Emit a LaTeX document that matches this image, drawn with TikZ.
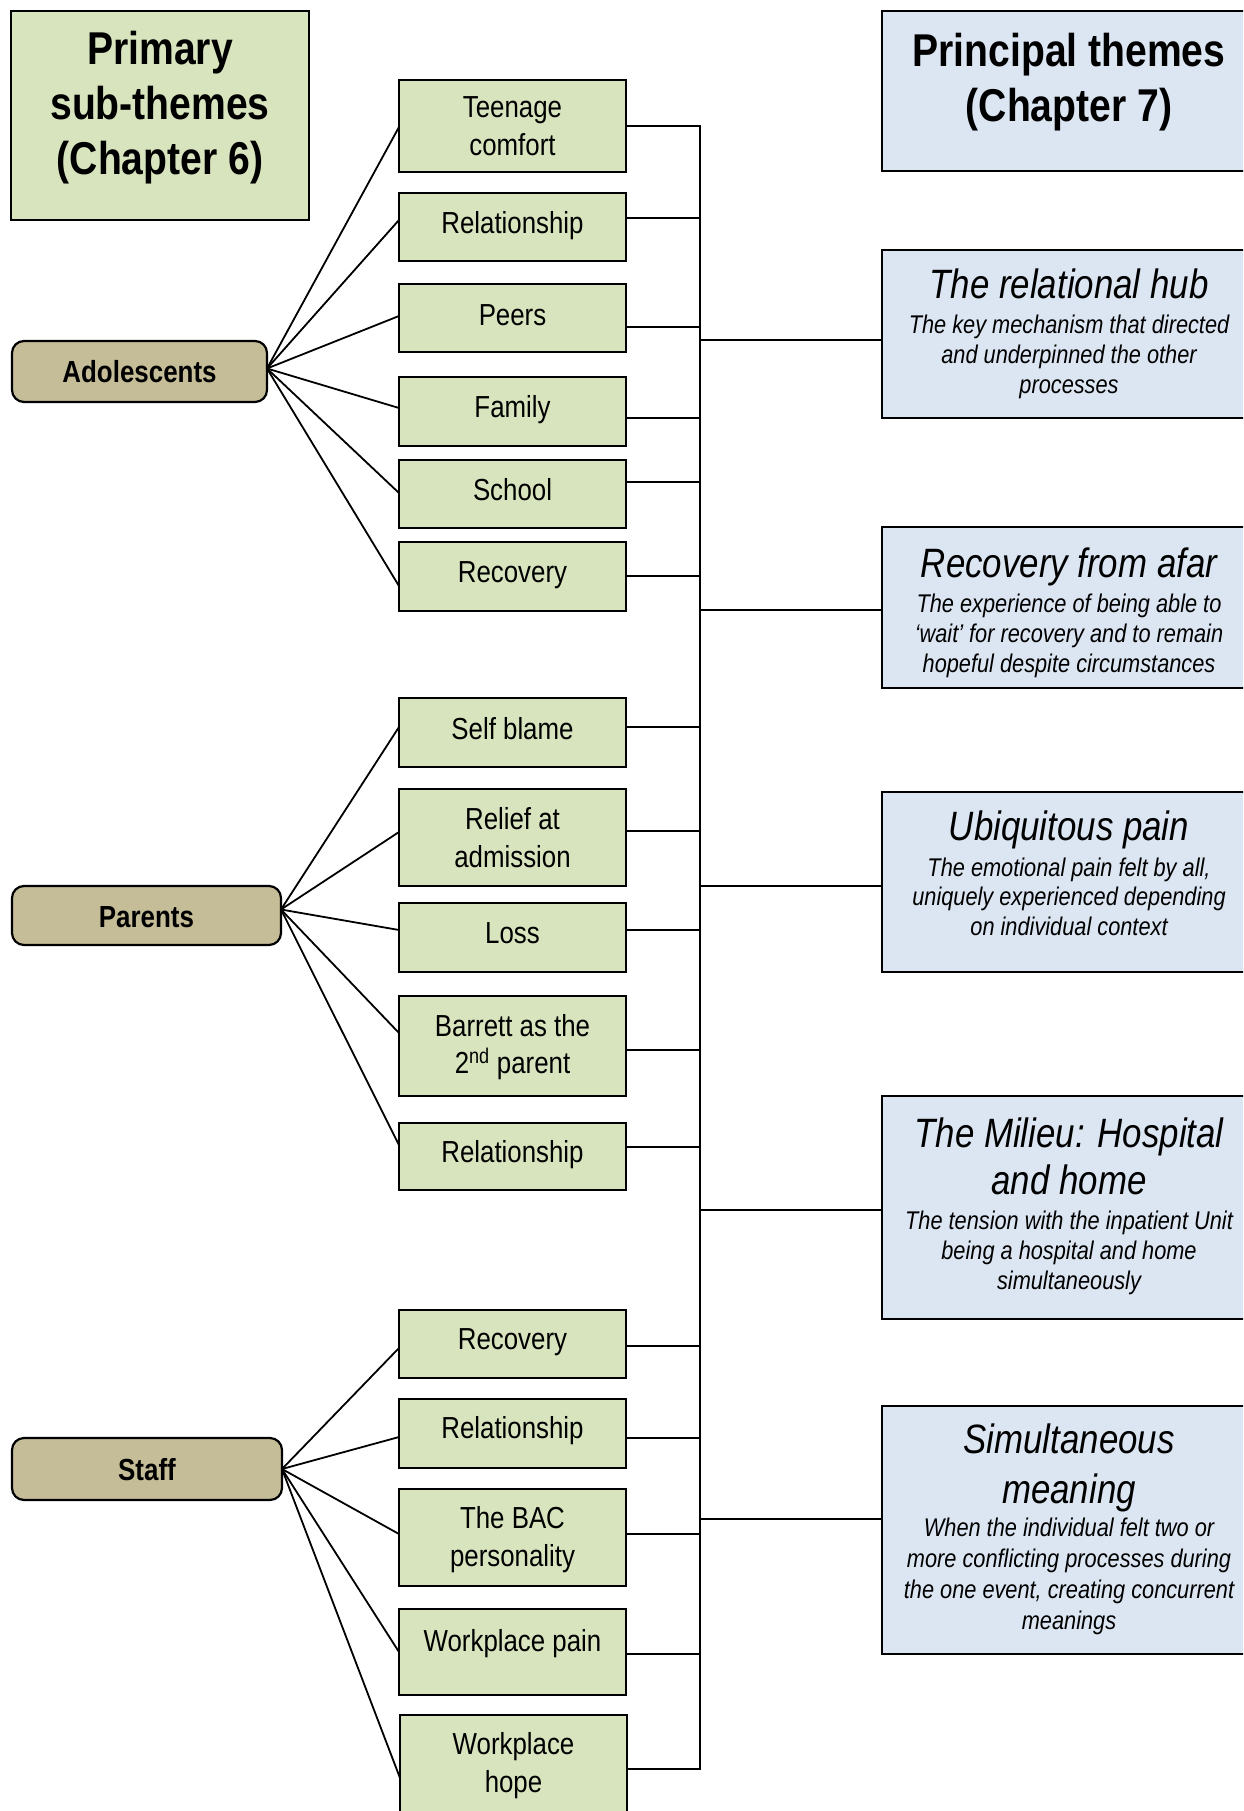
\documentclass[tikz,border=0pt]{standalone}
\usepackage{fontspec}
\setmainfont{Liberation Sans}[FakeStretch=0.85]
\usetikzlibrary{calc}

\definecolor{subgreen}{RGB}{215,228,189}
\definecolor{themeblue}{RGB}{220,230,242}
\definecolor{grouptan}{RGB}{196,189,151}

% \mkbox{style}{name}{left}{top}{right}{bottom}: a box node spanning the given edges
\newcommand\mkbox[6]{%
  \node[#1, minimum width={#5-#3}, minimum height={#6-#4}] (#2)
    at ({(#3+#5)/2},{(#4+#6)/2}) {};}

\begin{document}
\begin{tikzpicture}[x=1pt,y=-1pt,
  box/.style={draw=black, line width=2.2pt, inner sep=0pt, outer sep=0pt},
  subbox/.style={box, fill=subgreen},
  themebox/.style={box, fill=themeblue},
  headbox/.style={box, fill=subgreen},
  groupbox/.style={box, fill=grouptan, rounded corners=12pt},
  link/.style={draw=black, line width=2pt},
  spoke/.style={draw=black, line width=1.8pt},
  lbl/.style={anchor=base, inner sep=0pt, outer sep=0pt},
  subtxt/.style={lbl, font=\fontsize{30.4}{36}\selectfont},
  grouptxt/.style={lbl, font=\fontsize{30.5}{36}\selectfont\bfseries},
  headtxt/.style={lbl, font=\fontsize{46}{55}\selectfont\bfseries},
  titletxt/.style={lbl, font=\fontsize{41}{48}\selectfont\itshape},
  desctxt/.style={lbl, font=\fontsize{25.6}{30}\selectfont\itshape}]

\useasboundingbox (0,0) rectangle (1243,1811);
\clip (0,0) rectangle (1243,1811);
\fill[white] (0,0) rectangle (1243,1811);

% ---------- column headings ----------
\mkbox{headbox}{primary}{11}{11}{309}{220}
\node[headtxt] (primary1) at (160,65) {Primary};
\node[headtxt] (primary2) at (160,120) {sub-themes};
\node[headtxt] (primary3) at (160,175) {(Chapter 6)};

\mkbox{themebox}{principal}{882}{11}{1258}{171}
\node[headtxt] (principal1) at (1069,67) {Principal themes};
\node[headtxt] (principal2) at (1069,122) {(Chapter 7)};

% ---------- participant groups ----------
\mkbox{groupbox}{adol}{12}{341}{267}{402}
\node[grouptxt] (adolt) at (139.5,382) {Adolescents};
\mkbox{groupbox}{parents}{12}{886}{281}{945}
\node[grouptxt] (parentst) at (146.5,927) {Parents};
\mkbox{groupbox}{staff}{12}{1438}{282}{1500}
\node[grouptxt] (stafft) at (147,1480) {Staff};

\coordinate (adolhub) at ($(adol.east)+(0,-3)$);
\coordinate (parhub) at ($(parents.east)+(0,-6)$);
\coordinate (staffhub) at (staff.east);

% ---------- sub-themes ----------
\mkbox{subbox}{tc}{399}{80}{626}{172}
\node[subtxt] (tc1) at (512.5,118) {Teenage};
\node[subtxt] (tc2) at (512.5,156) {comfort};
\mkbox{subbox}{rela}{399}{193}{626}{261}
\node[subtxt] (relat) at (512.5,234) {Relationship};
\mkbox{subbox}{peers}{399}{284}{626}{352}
\node[subtxt] (peerst) at (512.5,325) {Peers};
\mkbox{subbox}{family}{399}{377}{626}{446}
\node[subtxt] (familyt) at (512.5,417) {Family};
\mkbox{subbox}{school}{399}{460}{626}{528}
\node[subtxt] (schoolt) at (512.5,500) {School};
\mkbox{subbox}{reca}{399}{542}{626}{611}
\node[subtxt] (recat) at (512.5,582) {Recovery};

\mkbox{subbox}{selfb}{399}{698}{626}{767}
\node[subtxt] (selfbt) at (512.5,739) {Self blame};
\mkbox{subbox}{relief}{399}{789}{626}{886}
\node[subtxt] (relief1) at (512.5,829) {Relief at};
\node[subtxt] (relief2) at (512.5,867) {admission};
\mkbox{subbox}{loss}{399}{903}{626}{972}
\node[subtxt] (losst) at (512.5,943) {Loss};
\mkbox{subbox}{barrett}{399}{996}{626}{1096}
\node[subtxt] (barrett1) at (512.5,1036) {Barrett as the};
\node[subtxt] (barrett2) at (512.5,1073) {2\textsuperscript{nd} parent};
\mkbox{subbox}{relb}{399}{1123}{626}{1190}
\node[subtxt] (relbt) at (512.5,1162) {Relationship};

\mkbox{subbox}{recb}{399}{1310}{626}{1378}
\node[subtxt] (recbt) at (512.5,1349) {Recovery};
\mkbox{subbox}{relc}{399}{1399}{626}{1468}
\node[subtxt] (relct) at (512.5,1438) {Relationship};
\mkbox{subbox}{bac}{399}{1489}{626}{1586}
\node[subtxt] (bac1) at (512.5,1528) {The BAC};
\node[subtxt] (bac2) at (512.5,1566) {personality};
\mkbox{subbox}{wpain}{399}{1609}{626}{1695}
\node[subtxt] (wpaint) at (512.5,1651) {Workplace pain};
\mkbox{subbox}{whope}{400}{1715}{627}{1840}
\node[subtxt] (whope1) at (513.5,1754) {Workplace};
\node[subtxt] (whope2) at (513.5,1792) {hope};

% ---------- principal themes ----------
\mkbox{themebox}{hub}{882}{250}{1258}{418}
\node[titletxt] (hubt) at (1069,298) {The relational hub};
\node[desctxt] (hubd1) at (1069,333) {The key mechanism that directed};
\node[desctxt] (hubd2) at (1069,363) {and underpinned the other};
\node[desctxt] (hubd3) at (1069,393) {processes};

\mkbox{themebox}{afar}{882}{527}{1258}{688}
\node[titletxt] (afart) at (1069,577) {Recovery from afar};
\node[desctxt] (afard1) at (1069,612.5) {The experience of being able to};
\node[desctxt] (afard2) at (1069,642) {‘wait’ for recovery and to remain};
\node[desctxt] (afard3) at (1069,672) {hopeful despite circumstances};

\mkbox{themebox}{ubiq}{882}{792}{1258}{972}
\node[titletxt] (ubiqt) at (1069,840) {Ubiquitous pain};
\node[desctxt] (ubiqd1) at (1069,876) {The emotional pain felt by all,};
\node[desctxt] (ubiqd2) at (1069,905.5) {uniquely experienced depending};
\node[desctxt] (ubiqd3) at (1069,935) {on individual context};

\mkbox{themebox}{milieu}{882}{1096}{1258}{1319}
\node[titletxt] (milieut1) at (1069,1147) {The Milieu: Hospital};
\node[titletxt] (milieut2) at (1069,1194) {and home};
\node[desctxt] (milieud1) at (1069,1229) {The tension with the inpatient Unit};
\node[desctxt] (milieud2) at (1069,1259) {being a hospital and home};
\node[desctxt] (milieud3) at (1069,1289) {simultaneously};

\mkbox{themebox}{simul}{882}{1406}{1258}{1654}
\node[titletxt] (simult1) at (1069,1453) {Simultaneous};
\node[titletxt] (simult2) at (1069,1503) {meaning};
\node[desctxt] (simuld1) at (1069,1536) {When the individual felt two or};
\node[desctxt] (simuld2) at (1069,1567) {more conflicting processes during};
\node[desctxt] (simuld3) at (1069,1598) {the one event, creating concurrent};
\node[desctxt] (simuld4) at (1069,1629) {meanings};

% ---------- spokes from each group to its sub-themes ----------
\draw[spoke] (adolhub) -- (tc.west |- 0,127);
\draw[spoke] (adolhub) -- (rela.west |- 0,220);
\draw[spoke] (adolhub) -- (peers.west |- 0,316);
\draw[spoke] (adolhub) -- (family.west |- 0,408);
\draw[spoke] (adolhub) -- (school.west |- 0,493);
\draw[spoke] (adolhub) -- (reca.west |- 0,586);

\draw[spoke] (parhub) -- (selfb.west |- 0,727);
\draw[spoke] (parhub) -- (relief.west |- 0,832);
\draw[spoke] (parhub) -- (loss.west |- 0,930);
\draw[spoke] (parhub) -- (barrett.west |- 0,1033);
\draw[spoke] (parhub) -- (relb.west |- 0,1145);

\draw[spoke] (staffhub) -- (recb.west |- 0,1348);
\draw[spoke] (staffhub) -- (relc.west |- 0,1437);
\draw[spoke] (staffhub) -- (bac.west |- 0,1534);
\draw[spoke] (staffhub) -- (wpain.west |- 0,1652);
\draw[spoke] (staffhub) -- (whope.west |- 0,1778);

% ---------- collecting bus ----------
\coordinate (bustop) at (700,126);
\coordinate (busbot) at (700,1769);
\draw[link] (tc.east |- bustop) -- (bustop) -- (busbot) -- (whope.east |- busbot);

\foreach \nd/\yy in {rela/218, peers/327, family/418, school/482, reca/576,
                     selfb/727, relief/831, loss/930, barrett/1050, relb/1147,
                     recb/1346, relc/1438, bac/1534, wpain/1654}
  \draw[link] (\nd.east |- 0,\yy) -- (bustop |- 0,\yy);

\foreach \nd/\yy in {hub/340, afar/610, ubiq/886, milieu/1210, simul/1519}
  \draw[link] (bustop |- 0,\yy) -- (\nd.west |- 0,\yy);

\end{tikzpicture}
\end{document}
